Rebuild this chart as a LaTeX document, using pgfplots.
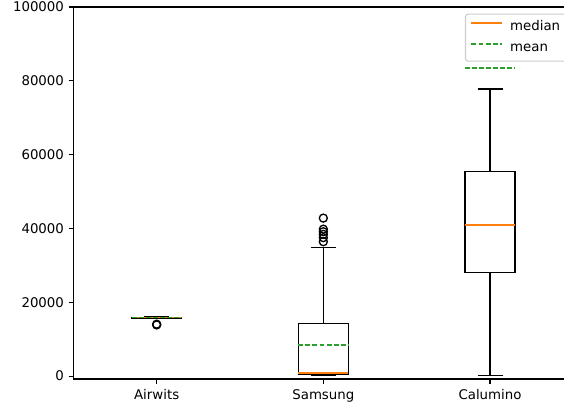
\documentclass[border=0pt]{standalone}
\usepackage{fontspec}
\setmainfont{DejaVu Sans}
\usepackage{pgfplots}
\pgfplotsset{compat=1.18}
\definecolor{mplorange}{HTML}{FF7F0E}
\definecolor{mplgreen}{HTML}{2CA02C}
\begin{document}
\begin{tikzpicture}
\path[use as bounding box] (-55pt,-21.75pt) rectangle (368pt,284.25pt);
\begin{axis}[
  at={(0pt,0pt)}, anchor=south west,
  scale only axis, width=375pt, height=279pt,
  xmin=0.5, xmax=3.5, ymin=-800, ymax=100000,
  xtick={1,2,3}, xticklabels={Airwits,Samsung,Calumino},
  ytick={0,20000,40000,60000,80000,100000},
  yticklabels={0,20000,40000,60000,80000,100000},
  scaled y ticks=false,
  tick align=outside, tick pos=left,
  major tick length=3.5pt,
  every tick/.style={black, line width=0.8pt},
  axis line style={line width=0.8pt},
  ticklabel style={font=\fontsize{10}{12}\selectfont},
  xticklabel style={yshift=-1pt},
  unbounded coords=jump,
  legend cell align=left,
  legend image code/.code={\path (-2.5pt,0pt) (25.5pt,0pt); \draw[#1] (-0.5pt,3.1pt) -- (22.5pt,3.1pt);},
  legend style={at={(rel axis cs:1,1)}, anchor=north east, xshift=-5pt, yshift=-5pt,
    draw=black!20, line width=0.8pt, fill=white, fill opacity=0.8, text opacity=1, draw opacity=1,
    rounded corners=2pt, inner xsep=2pt, inner ysep=3.5pt,
    font=\fontsize{10}{12}\selectfont, row sep=3.25pt,
    nodes={inner xsep=2.5pt, inner ysep=1pt, text height=7.5pt, text depth=3pt}},
  box/.style={black, line width=1pt, forget plot},
  med/.style={mplorange, line width=1pt, forget plot},
  mn/.style={mplgreen, line width=1pt, dash pattern=on 3.7pt off 1.6pt, forget plot},
  fl/.style={only marks, mark=o, mark size=3pt, mark options={solid, black, line width=1pt}, forget plot},
]
% ---- boxes (Q1..Q3)
\addplot[box] coordinates {(0.85,15750) (1.15,15750) (1.15,15950) (0.85,15950)} --cycle;
\addplot[box] coordinates {(1.85,450) (2.15,450) (2.15,14280) (1.85,14280)} --cycle;
\addplot[box] coordinates {(2.85,28000) (3.15,28000) (3.15,55400) (2.85,55400)} --cycle;
% ---- whiskers and caps
\addplot[box] coordinates {(1,15750) (1,15600) (nan,nan) (1,15950) (1,16150) (nan,nan)
  (0.925,15600) (1.075,15600) (nan,nan) (0.925,16150) (1.075,16150)};
\addplot[box] coordinates {(2,450) (2,100) (nan,nan) (2,14280) (2,34800) (nan,nan)
  (1.925,100) (2.075,100) (nan,nan) (1.925,34800) (2.075,34800)};
\addplot[box] coordinates {(3,28000) (3,200) (nan,nan) (3,55400) (3,77800) (nan,nan)
  (2.925,200) (3.075,200) (nan,nan) (2.925,77800) (3.075,77800)};
% ---- medians
\addplot[med] coordinates {(0.85,15850) (1.15,15850)};
\addplot[med] coordinates {(1.85,800) (2.15,800)};
\addplot[med] coordinates {(2.85,40900) (3.15,40900)};
% ---- fliers
\addplot[fl] coordinates {(1,13850) (1,14050)
  (2,36400) (2,37500) (2,38400) (2,39100) (2,39800) (2,42800)};
% ---- means
\addplot[mn] coordinates {(0.85,15820) (1.15,15820)};
\addplot[mn] coordinates {(1.85,8400) (2.15,8400)};
\addplot[mn] coordinates {(2.85,83470) (3.15,83470)};
\addlegendimage{mplorange, line width=1pt}
\addlegendentry{median}
\addlegendimage{mplgreen, line width=1pt, dash pattern=on 3.7pt off 1.6pt}
\addlegendentry{mean}
\end{axis}
\end{tikzpicture}
\end{document}
